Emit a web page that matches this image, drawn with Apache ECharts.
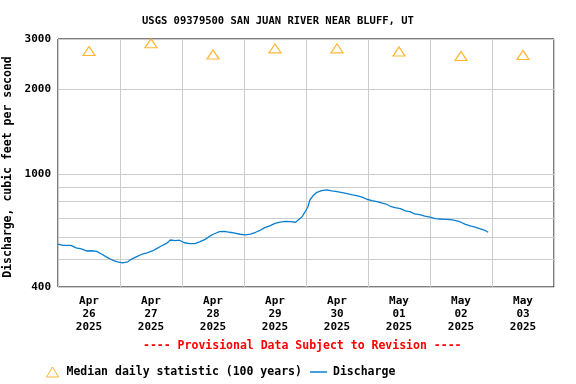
<!DOCTYPE html>
<html>
<head>
<meta charset="utf-8">
<script src="https://cdn.jsdelivr.net/npm/echarts@6/dist/echarts.min.js"></script>
<style>
html,body{margin:0;padding:0;background:#fff;}
#chart{width:576px;height:384px;}
</style>
</head>
<body>
<div id="chart"></div>
<script>
// ---- data ----
const title = 'USGS 09379500 SAN JUAN RIVER NEAR BLUFF, UT';
const yAxisName = 'Discharge, cubic feet per second';
const provisionalText = '---- Provisional Data Subject to Revision ----';

const medianDates = ['2025-04-26 12:00','2025-04-27 12:00','2025-04-28 12:00','2025-04-29 12:00',
                     '2025-04-30 12:00','2025-05-01 12:00','2025-05-02 12:00','2025-05-03 12:00'];
const medianValues = [2720, 2900, 2645, 2780, 2780, 2710, 2615, 2635];

const dischargeTimes = [
 '2025-04-26 00:00','2025-04-26 02:00','2025-04-26 05:00','2025-04-26 07:00','2025-04-26 09:00',
 '2025-04-26 11:00','2025-04-26 13:00','2025-04-26 15:00','2025-04-26 17:00','2025-04-26 19:00',
 '2025-04-26 21:00','2025-04-26 23:00','2025-04-27 01:00','2025-04-27 03:00','2025-04-27 04:30',
 '2025-04-27 06:30','2025-04-27 08:30','2025-04-27 10:30','2025-04-27 12:30','2025-04-27 14:00',
 '2025-04-27 16:00','2025-04-27 18:00','2025-04-27 19:30','2025-04-27 21:30','2025-04-27 23:00',
 '2025-04-28 01:00','2025-04-28 03:00','2025-04-28 05:00','2025-04-28 07:00','2025-04-28 09:00',
 '2025-04-28 11:00','2025-04-28 13:00','2025-04-28 14:30','2025-04-28 16:30','2025-04-28 18:30',
 '2025-04-28 20:30','2025-04-28 22:30','2025-04-29 00:30','2025-04-29 02:30','2025-04-29 04:30',
 '2025-04-29 06:00','2025-04-29 08:00','2025-04-29 10:00','2025-04-29 12:00','2025-04-29 14:00',
 '2025-04-29 16:00','2025-04-29 18:00','2025-04-29 20:00','2025-04-29 21:00','2025-04-29 22:30',
 '2025-04-29 23:30','2025-04-30 00:45','2025-04-30 01:30','2025-04-30 03:00','2025-04-30 04:00',
 '2025-04-30 06:00','2025-04-30 08:00','2025-04-30 10:00','2025-04-30 12:00','2025-04-30 14:00',
 '2025-04-30 16:00','2025-04-30 18:00','2025-04-30 20:00','2025-04-30 22:00','2025-04-30 23:30',
 '2025-05-01 01:30','2025-05-01 03:30','2025-05-01 05:30','2025-05-01 07:00','2025-05-01 09:00',
 '2025-05-01 10:30','2025-05-01 12:30','2025-05-01 14:30','2025-05-01 16:30','2025-05-01 18:00',
 '2025-05-01 20:00','2025-05-01 22:00','2025-05-02 00:00','2025-05-02 02:00','2025-05-02 04:00',
 '2025-05-02 06:00','2025-05-02 08:00','2025-05-02 10:00','2025-05-02 12:00','2025-05-02 13:30',
 '2025-05-02 15:30','2025-05-02 17:30','2025-05-02 19:30','2025-05-02 21:30','2025-05-02 22:30'
];
const dischargeValues = [
 567,561,561,550,545,
 536,537,534,522,509,
 498,491,487,491,502,
 512,522,528,536,545,
 558,570,586,583,585,
 573,569,569,578,589,
 607,619,627,629,624,
 620,614,611,615,624,
 632,648,657,671,677,
 682,680,677,690,708,
 733,768,811,845,861,
 875,880,873,868,861,
 854,845,838,829,816,
 807,800,790,785,768,
 762,756,743,736,724,
 720,712,706,697,695,
 693,691,686,677,667,
 657,650,642,632,624
];

const xStart = '2025-04-26 00:00';
const xEnd = '2025-05-04 00:00';
const xLabelDates = medianDates;
const yMin = 400, yMax = 3000;
const yGridValues = [400, 500, 600, 700, 800, 900, 1000, 2000, 3000];
const yLabelValues = [400, 1000, 2000, 3000];
const monthNames = ['Jan','Feb','Mar','Apr','May','Jun','Jul','Aug','Sep','Oct','Nov','Dec'];

// ---- chart ----
function ts(s){ return new Date(s.replace(' ', 'T') + ':00').getTime(); }
const DAY = 86400000;
const FONT = '"DejaVu Sans Mono", "Liberation Mono", monospace';

const chart = echarts.init(document.getElementById('chart'), null, {renderer: 'canvas'});
chart.setOption({
  animation: false,
  backgroundColor: '#ffffff',
  title: {
    text: title, left: 142, top: 16, padding: 0,
    textStyle: {fontFamily: FONT, fontSize: 10.5, fontWeight: 'bold', color: '#000'}
  },
  grid: {left: 58, right: 22, top: 39, bottom: 97, containLabel: false, outerBoundsMode: 'none',
         show: true, borderColor: '#000', borderWidth: 1, backgroundColor: 'transparent'},
  xAxis: {
    type: 'value', min: ts(xStart), max: ts(xEnd), interval: DAY,
    axisLine: {show: false},
    axisTick: {show: false},
    splitLine: {show: true, lineStyle: {color: '#cccccc', width: 1}},
    axisLabel: {
      customValues: xLabelDates.map(ts),
      margin: 8, lineHeight: 13,
      fontFamily: FONT, fontSize: 11, fontWeight: 'bold', color: '#000',
      formatter: function (v) {
        const d = new Date(v);
        const dd = String(d.getDate()).padStart(2, '0');
        return monthNames[d.getMonth()] + '\n' + dd + '\n' + d.getFullYear();
      }
    }
  },
  yAxis: {
    type: 'log', logBase: 10, min: yMin, max: yMax,
    name: yAxisName, nameLocation: 'middle', nameGap: 37,
    nameTextStyle: {fontFamily: FONT, fontSize: 11.5, fontWeight: 'bold', color: '#000', padding: [0, 8, 0, 0]},
    axisLine: {show: false},
    axisTick: {show: false, customValues: yGridValues},
    splitLine: {show: true, lineStyle: {color: '#cccccc', width: 1}},
    axisLabel: {
      customValues: yLabelValues, margin: 7,
      fontFamily: FONT, fontSize: 11, fontWeight: 'bold', color: '#000',
      formatter: function (v) { return String(Math.round(v)); }
    }
  },
  legend: [
    {
      data: [{name: 'Median daily statistic (100 years)', icon: 'triangle',
              itemStyle: {color: 'transparent', borderColor: '#ffa500', borderWidth: 1}}],
      left: 46, top: 366, itemWidth: 12, itemHeight: 10, padding: 0,
      textStyle: {fontFamily: FONT, fontSize: 11.5, fontWeight: 'bold', color: '#000', padding: [0, 0, 0, 3]}
    },
    {
      data: [{name: 'Discharge', icon: 'rect', itemStyle: {color: '#0a7fd0'}}],
      left: 310, top: 366, itemWidth: 17, itemHeight: 1.5, padding: 0,
      textStyle: {fontFamily: FONT, fontSize: 11.5, fontWeight: 'bold', color: '#000', padding: [0, 0, 0, 1]}
    }
  ],
  graphic: [{
    type: 'text', left: 143, top: 340,
    style: {text: provisionalText, fill: '#ff0000', font: 'bold 11.5px ' + FONT}
  }],
  series: [
    {
      name: 'Median daily statistic (100 years)', type: 'scatter',
      symbol: 'triangle', symbolSize: [12, 9],
      itemStyle: {color: 'transparent', borderColor: '#ffa500', borderWidth: 1.2},
      data: medianDates.map((d, i) => [ts(d), medianValues[i]])
    },
    {
      name: 'Discharge', type: 'line', showSymbol: false, symbol: 'none',
      lineStyle: {color: '#0a7fd0', width: 1.3},
      itemStyle: {color: '#0a7fd0'},
      data: dischargeTimes.map((d, i) => [ts(d), dischargeValues[i]])
    }
  ]
});
</script>
</body>
</html>
